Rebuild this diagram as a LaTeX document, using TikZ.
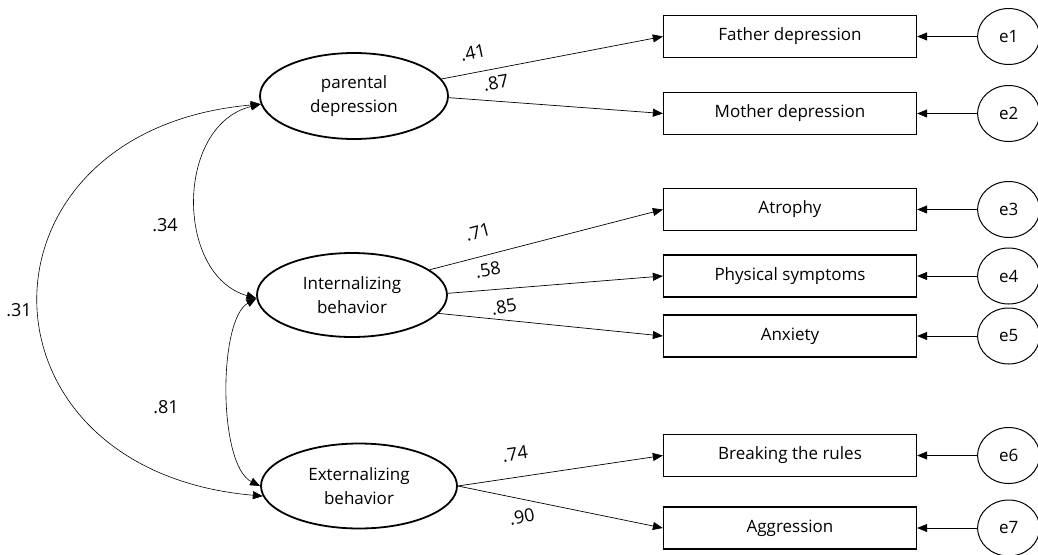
\documentclass[tikz,border=0pt]{standalone}
\usepackage{fontspec}
\setmainfont{Open Sans}
\usetikzlibrary{positioning, shapes.geometric, arrows.meta}

\begin{document}
\begin{tikzpicture}[
    x=1pt, y=-1pt,
    font=\fontsize{17}{24}\selectfont,
    latent/.style={ellipse, draw, line width=1.8pt, inner sep=0pt, align=center},
    observed/.style={rectangle, draw, line width=1.3pt, minimum width=253pt, minimum height=42pt},
    errvar/.style={ellipse, draw, line width=1pt, minimum width=62pt, minimum height=56pt, inner sep=0pt},
    arrow/.style={-{Triangle[length=10pt, width=8pt]}, line width=0.7pt},
    cov/.style={{Triangle[length=10pt, width=8pt]}-{Triangle[length=10pt, width=8pt]}, line width=0.6pt},
    coef/.style={font=\fontsize{18}{20}\selectfont, inner sep=0pt}
]
\useasboundingbox (0,0) rectangle (1038,554);

% Latent factors
\node[latent, minimum width=188pt, minimum height=86pt] (par) at (354,96) {parental\\depression};
\node[latent, minimum width=190pt, minimum height=84pt] (intb) at (352,295) {Internalizing\\behavior};
\node[latent, minimum width=196pt, minimum height=85pt] (extb) at (359,486) {Externalizing\\behavior};

% Observed indicators
\node[observed] (fd) at (790,36.5) {Father depression};
\node[observed] (md) at (790,113.5) {Mother depression};
\node[observed] (atr) at (790,209.5) {Atrophy};
\node[observed] (phy) at (790,276) {Physical symptoms};
\node[observed] (anx) at (790,336) {Anxiety};
\node[observed] (brk) at (790,455.5) {Breaking the rules};
\node[observed] (agg) at (790,528) {Aggression};

% Error terms
\node[errvar, right=60pt of fd] (e1) {e1};
\node[errvar, right=60pt of md] (e2) {e2};
\node[errvar, right=60pt of atr] (e3) {e3};
\node[errvar, right=60pt of phy] (e4) {e4};
\node[errvar, right=60pt of anx] (e5) {e5};
\node[errvar, right=60pt of brk] (e6) {e6};
\node[errvar, right=60pt of agg] (e7) {e7};

% Loadings
\draw[arrow] (par.11) -- (fd.west);
\draw[arrow] (par.-1) -- (md.west);
\draw[arrow] (intb.18) -- (atr.west);
\draw[arrow] (intb.1) -- (phy.west);
\draw[arrow] (intb.-12) -- (anx.west);
\draw[arrow] (extb.east) -- (brk.west);
\draw[arrow] (extb.east) -- (agg.west);

\node[coef, rotate=12] (c41) at (473,53) {.41};
\node[coef, rotate=10] (c87) at (496,83) {.87};
\node[coef, rotate=15] (c71) at (478,232) {.71};
\node[coef, rotate=10] (c58) at (488,270) {.58};
\node[coef, rotate=10] (c85) at (504,307) {.85};
\node[coef, rotate=8] (c74) at (515,454) {.74};
\node[coef, rotate=10] (c90) at (522,517) {.90};

% Errors to indicators
\draw[arrow] (e1.west) -- (fd.east);
\draw[arrow] (e2.west) -- (md.east);
\draw[arrow] (e3.west) -- (atr.east);
\draw[arrow] (e4.west) -- (phy.east);
\draw[arrow] (e5.west) -- (anx.east);
\draw[arrow] (e6.west) -- (brk.east);
\draw[arrow] (e7.west) -- (agg.east);

% Correlations
\draw[cov] (par.185) .. controls (175,125) and (175,275) .. (intb.182);
\draw[cov] (intb.182) .. controls (218,320) and (218,465) .. (extb.180);
\draw[cov] (par.185) .. controls (-35,130) and (-35,470) .. (extb.186);

\node[coef] (c34) at (165,225) {.34};
\node[coef] (c81) at (166,407) {.81};
\node[coef] (c31) at (19,310) {.31};

\end{tikzpicture}
\end{document}
